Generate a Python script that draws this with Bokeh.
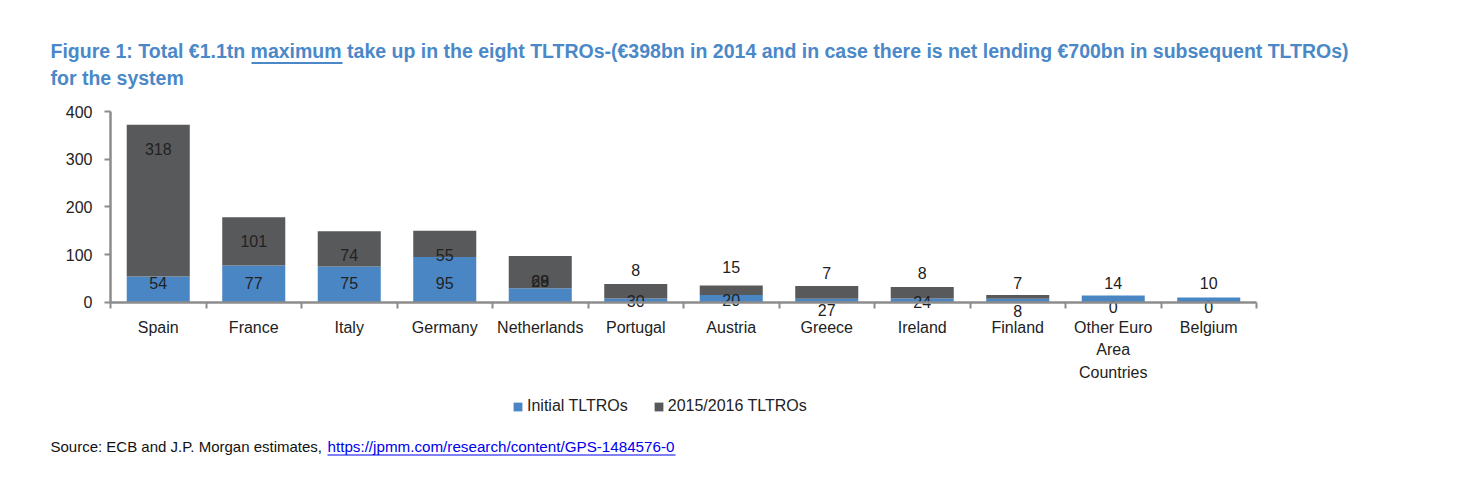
from bokeh.plotting import figure
from bokeh.models import (ColumnDataSource, Range1d, FixedTicker, Label, BoxAnnotation)
from bokeh.core.properties import value
from bokeh.embed import file_html
from bokeh.resources import INLINE
import numpy as np

categories = ["Spain", "France", "Italy", "Germany", "Netherlands", "Portugal",
              "Austria", "Greece", "Ireland", "Finland", "Other Euro\nArea\nCountries", "Belgium"]
initial = [54, 77, 75, 95, 29, 8, 15, 7, 8, 7, 14, 10]
later = [318, 101, 74, 55, 68, 30, 20, 27, 24, 8, 0, 0]
# vertical placement of the data labels as they appear in the original (data units)
initial_label_y = [41, 41, 41, 41, 45, 67, 73, 62, 62, 41, 41, 41]
later_label_y = [321, 128, 99, 99, 45, 2, 4, -16, 0, -18, -11, -11]
y_ticks = [0, 100, 200, 300, 400]
series_names = ["Initial TLTROs", "2015/2016 TLTROs"]

BLUE = "#4A86C4"
GRAY = "#58595B"
TITLE_BLUE = "#4A88C8"
FONT = "Liberation Sans"
AXIS = "#8C8C8C"

# canvas / plot-area geometry in pixels
W, H = 1455, 474
AX_L, AX_R = 110, 1256        # x of category 0 and category 12 boundaries
AX_0, AX_TOP = 301.7, 111     # y of value 0 and value 400
n = len(categories)
px_x = (AX_R - AX_L) / n
px_y = (AX_0 - AX_TOP) / 400

def sx(px):
    return px

def sy(py):
    return H - py

xc = np.arange(n) + 0.5
src = ColumnDataSource(dict(x=xc, initial=initial, later=later,
                            ini_txt=[str(v) for v in initial],
                            lat_txt=[str(v) for v in later],
                            ini_y=initial_label_y, lat_y=later_label_y,
                            cat=categories, cat_y=[-36] * n))

p = figure(x_range=Range1d(-AX_L / px_x, n + (W - AX_R) / px_x),
           y_range=Range1d(-(H - AX_0) / px_y, 400 + AX_TOP / px_y),
           frame_width=W, frame_height=H,
           min_border_left=0, min_border_right=0, min_border_top=0, min_border_bottom=0,
           output_backend="svg", toolbar_location=None)
p.outline_line_color = None
p.xgrid.visible = False
p.ygrid.visible = False
p.background_fill_color = "white"
p.border_fill_color = "white"

p.vbar_stack(["initial", "later"], x="x", width=0.66, color=[BLUE, GRAY], source=src,
             legend_label=series_names, line_color=None)

p.text(x="x", y="ini_y", text="ini_txt", source=src, text_align="center", text_baseline="middle",
       text_font=value(FONT), text_font_size="16px", text_color="#222222")
p.text(x="x", y="lat_y", text="lat_txt", source=src, text_align="center", text_baseline="middle",
       text_font=value(FONT), text_font_size="16px", text_color="#222222")
p.text(x="x", y="cat_y", text="cat", source=src, text_align="center", text_baseline="top",
       text_font=value(FONT), text_font_size="16px", text_color="#222222", text_line_height=1.3)

# axes (drawn at fixed data locations inside the canvas)
xa = p.xaxis[0]
xa.fixed_location = 0
xa.bounds = (0, n)
xa.ticker = FixedTicker(ticks=list(range(n + 1)))
xa.major_label_overrides = {i: "" for i in range(n + 1)}
xa.axis_line_color = AXIS
xa.axis_line_width = 2.5
xa.major_tick_line_color = AXIS
xa.major_tick_line_width = 2
xa.major_tick_out = 6
xa.major_tick_in = 0
xa.minor_tick_line_color = None

ya = p.yaxis[0]
ya.fixed_location = 0
ya.ticker = FixedTicker(ticks=y_ticks)
ya.bounds = (0, 400)
ya.axis_line_color = AXIS
ya.axis_line_width = 2.5
ya.major_tick_line_color = AXIS
ya.major_tick_line_width = 2
ya.major_tick_out = 6
ya.major_tick_in = 0
ya.minor_tick_line_color = None
ya.major_label_text_font = FONT
ya.major_label_text_font_size = "16px"
ya.major_label_text_color = "#222222"
ya.major_label_standoff = 12

lg = p.legend[0]
lg.orientation = "horizontal"
lg.location = (sx(512), sy(415))
lg.label_text_font = FONT
lg.label_text_font_size = "16px"
lg.label_text_color = "#222222"
lg.glyph_width = 11
lg.glyph_height = 11
lg.label_standoff = 4
lg.spacing = 25
lg.padding = 0
lg.margin = 0
lg.border_line_color = None
lg.background_fill_alpha = 0

p.add_layout(Label(x=sx(50), y=sy(50), x_units="screen", y_units="screen",
                   text="Figure 1: Total €1.1tn maximum take up in the eight TLTROs-(€398bn in 2014 and in case there is net lending €700bn in subsequent TLTROs)",
                   text_font=FONT, text_font_size="19.5px", text_font_style="bold",
                   text_color=TITLE_BLUE, text_baseline="middle"))
p.add_layout(Label(x=sx(50), y=sy(77), x_units="screen", y_units="screen",
                   text="for the system",
                   text_font=FONT, text_font_size="19.5px", text_font_style="bold",
                   text_color=TITLE_BLUE, text_baseline="middle"))
p.add_layout(BoxAnnotation(left=sx(251), right=sx(342), bottom=sy(63.5), top=sy(61.5),
                           left_units="screen", right_units="screen",
                           bottom_units="screen", top_units="screen",
                           fill_color=TITLE_BLUE, fill_alpha=1, line_color=None))

p.add_layout(Label(x=sx(50), y=sy(446), x_units="screen", y_units="screen",
                   text="Source: ECB and J.P. Morgan estimates, ",
                   text_font=FONT, text_font_size="15px", text_color="#111111",
                   text_baseline="middle"))
p.add_layout(Label(x=sx(327), y=sy(446), x_units="screen", y_units="screen",
                   text="https://jpmm.com/research/content/GPS-1484576-0",
                   text_font=FONT, text_font_size="15.2px", text_color="#0000EE",
                   text_baseline="middle"))
p.add_layout(BoxAnnotation(left=sx(327), right=sx(675), bottom=sy(455), top=sy(454),
                           left_units="screen", right_units="screen",
                           bottom_units="screen", top_units="screen",
                           fill_color="#0000EE", fill_alpha=1, line_color=None))

open("out.html", "w").write(file_html(p, INLINE))
